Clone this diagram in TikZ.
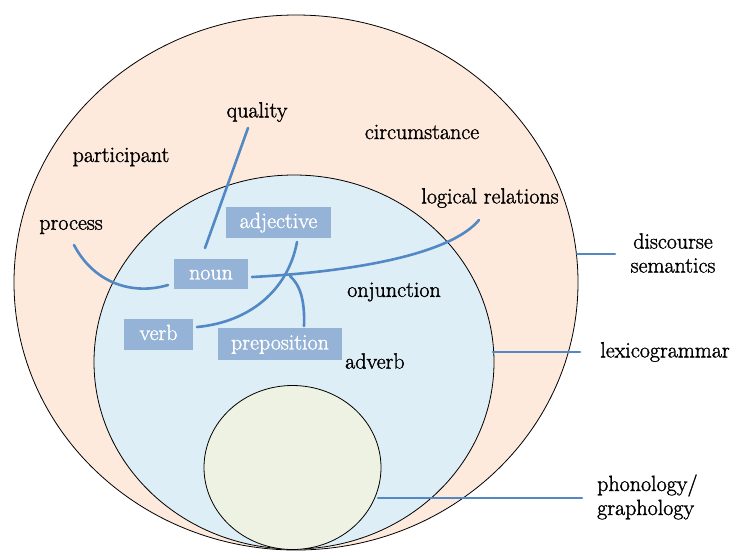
\documentclass[tikz,border=0pt]{standalone}
\usepackage{fontspec}
\newfontfamily\lblfont{Latin Modern Roman}[FakeBold=1.4]
\definecolor{outerfill}{HTML}{FDEADC}
\definecolor{innerfill}{HTML}{DEEEF7}
\definecolor{corefill}{HTML}{EEF2E3}
\definecolor{boxfill}{HTML}{95B3D7}
\definecolor{linkblue}{HTML}{5288C4}
\begin{document}
\begin{tikzpicture}[x=1pt,y=-1pt,
  every node/.style={font=\lblfont\fontsize{22}{24}\selectfont},
  term/.style={inner sep=0pt, text=black},
  wordbox/.style={fill=boxfill, text=white, inner sep=0pt,
    text height=15pt, text depth=4pt},
  link/.style={draw=linkblue, line width=2.6pt, line cap=round},
  ring/.style={draw=black, line width=0.8pt}]
\useasboundingbox (0,0) rectangle (733,550);
\begin{scope}
\clip (0,0) rectangle (733,550);
% strata as nested ellipses touching at the bottom
\path[ring, fill=outerfill] (296,282.5) ellipse [x radius=282, y radius=267.5];
\path[ring, fill=innerfill] (294,362) ellipse [x radius=200, y radius=187];
\path[ring, fill=corefill] (292.5,467.5) ellipse [x radius=88.5, y radius=82];
\end{scope}

% semantic categories
\node[term] (quality) at (257,112) {quality};
\node[term] (circ) at (422,132) {circumstance};
\node[term] (part) at (121,157) {participant};
\node[term] (logrel) at (490,198) {logical relations};
\node[term] (proc) at (71,227) {process};
\node[term] (conj) at (394,292) {onjunction};
\node[term, anchor=west] (adverb) at (345,361) {adverb};

% word classes
\node[wordbox, minimum width=105pt, minimum height=31pt] (adj) at (278.5,222.5) {adjective};
\node[wordbox, minimum width=74pt, minimum height=30pt] (noun) at (211,274) {noun};
\node[wordbox, minimum width=69pt, minimum height=31pt] (verb) at (158.5,334.5) {verb};
\node[wordbox, minimum width=124pt, minimum height=32pt] (prep) at (280,344) {preposition};

% stratum labels
\node[term, align=center] (disc) at (673,253) {discourse\\semantics};
\node[term] (lexg) at (665,352) {lexicogrammar};
\node[term, align=left, anchor=west] (phon) at (597,497) {phonology/\\graphology};

% connector end points
\coordinate (qEnd) at (248,128);
\coordinate (nTop) at (205,248);
\coordinate (pEnd) at (74,245);
\coordinate (nLeft) at (168,285);
\coordinate (aBot) at (297,242);
\coordinate (vRight) at (197,327);
\coordinate (nRight) at (252,277);
\coordinate (lEnd) at (479,220);
\coordinate (fork) at (290,276);
\coordinate (pTop) at (304,326);
\coordinate (discRim) at (577,254);
\coordinate (discTag) at (615,254);
\coordinate (lexRim) at (493,352);
\coordinate (lexTag) at (580,352);
\coordinate (phonRim) at (378,498);
\coordinate (phonTag) at (582,498);

% realisation links
\draw[link] (qEnd) -- (nTop);
\draw[link] (pEnd) .. controls (95,285) and (135,295) .. (nLeft);
\draw[link] (aBot) .. controls (288,290) and (250,322) .. (vRight);
\draw[link] (nRight) .. controls (350,272) and (450,255) .. (lEnd);
\draw[link] (fork) .. controls (300,285) and (305,300) .. (pTop);

% stratum pointers
\draw[link] (discRim) -- (discTag);
\draw[link] (lexRim) -- (lexTag);
\draw[link] (phonRim) -- (phonTag);
\end{tikzpicture}
\end{document}
